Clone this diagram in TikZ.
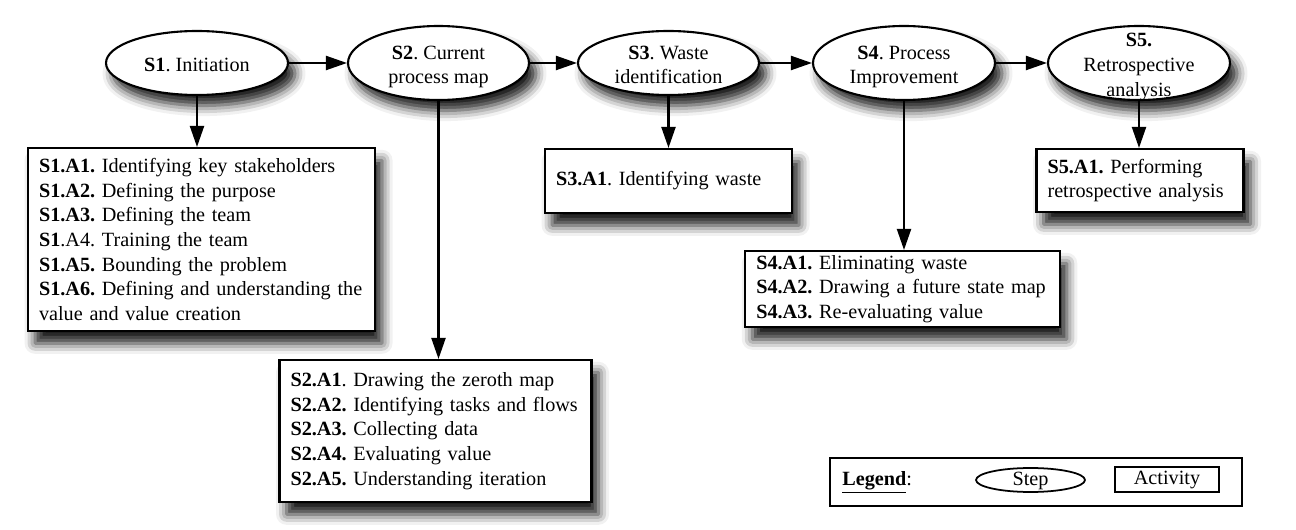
\documentclass[tikz,border=0pt]{standalone}
\usepackage{fontspec}
\setmainfont{Liberation Serif}
\usetikzlibrary{shapes.geometric, positioning, arrows.meta, shadows.blur}

\tikzset{
  stepnode/.style={ellipse, draw, line width=1.2pt, fill=white, inner sep=0pt,
    blur shadow={shadow xshift=4pt, shadow yshift=-6pt, shadow blur radius=6pt, shadow opacity=90}},
  activity/.style={rectangle, draw, line width=1.2pt, fill=white, align=left,
    inner xsep=0.22cm, inner ysep=0pt,
    blur shadow={shadow xshift=4pt, shadow yshift=-7pt, shadow blur radius=6pt, shadow opacity=90}},
  legendbox/.style={rectangle, draw, line width=1.2pt, inner sep=0pt}
}
\newcommand{\steplines}[1]{\smash{\raisebox{-5pt}{\begin{tabular}{@{}c@{}}#1\end{tabular}}}}

\begin{document}
\frenchspacing
\begin{tikzpicture}[x=0.02cm, y=-0.02cm, >={Triangle[length=12pt,width=8pt]}]
\fontsize{11.5}{14}\selectfont
\useasboundingbox (0,0) rectangle (1296,530);
        % Steps
        \node[stepnode, minimum width=3.64cm, minimum height=1.28cm] at (197, 63)   (s1) {\steplines{\textbf{S1}. Initiation}};
        \node[stepnode, minimum width=3.62cm, minimum height=1.48cm] at (438.5, 63) (s2) {\steplines{\textbf{S2}. Current\\process map}};
        \node[stepnode, minimum width=3.62cm, minimum height=1.28cm] at (668.5, 63) (s3) {\steplines{\textbf{S3}. Waste\\identification}};
        \node[stepnode, minimum width=3.64cm, minimum height=1.48cm] at (904, 63)   (s4) {\steplines{\textbf{S4}. Process\\Improvement}};
        \node[stepnode, minimum width=3.64cm, minimum height=1.48cm] at (1139, 63)  (s5) {\steplines{\textbf{S5.}\\Retrospective\\analysis}};
        % Activities
        \node[activity, text width=6.5cm, minimum height=3.66cm] at (201.5, 239.5) (a1) {%
          \textbf{S1.A1.} Identifying key stakeholders\\
          \textbf{S1.A2.} Defining the purpose\\
          \textbf{S1.A3.} Defining the team\\
          \textbf{S1}.A4. Training the team\\
          \textbf{S1.A5.} Bounding the problem\\
          \textbf{S1.A6.} Defining and understanding the\\
          value and value creation};
        \node[activity, text width=5.8cm, minimum height=2.84cm] at (435.5, 431) (a2) {%
          \textbf{S2.A1}. Drawing the zeroth map\\
          \textbf{S2.A2.} Identifying tasks and flows\\
          \textbf{S2.A3.} Collecting data\\
          \textbf{S2.A4.} Evaluating value\\
          \textbf{S2.A5.} Understanding iteration};
        \node[activity, text width=4.50cm, minimum height=1.28cm] at (668.5, 181) (a3) {%
          \textbf{S3.A1}. Identifying waste};
        \node[activity, text width=5.85cm, minimum height=1.52cm] at (902.5, 289) (a4) {%
          \textbf{S4.A1.} Eliminating waste\\
          \textbf{S4.A2.} Drawing a future state map\\
          \textbf{S4.A3.} Re-evaluating value};
        \node[activity, text width=3.7cm, minimum height=1.26cm] at (1140, 180.5) (a5) {%
          \textbf{S5.A1.} Performing\\
          retrospective analysis};
        % Legend
        \node[legendbox, minimum width=8.24cm, minimum height=0.96cm] at (1036, 482) (legend) {};
        \node[anchor=west, inner sep=0pt] at (842, 482) (legendtxt) {\underline{\textbf{Legend}}:};
        \node[ellipse, draw, line width=1pt, inner sep=0pt, text height=1.5ex, text depth=0.25ex,
              minimum width=2.18cm, minimum height=0.48cm] at (1030.5, 480) (legstep) {Step};
        \node[legendbox, line width=1pt, minimum width=2.08cm, minimum height=0.5cm] at (1167, 479.5) (legact) {Activity};
        % Connect the steps
        \draw[->, line width=1.2pt]
            (s1) edge (s2)
            (s2) edge (s3)
            (s3) edge (s4)
            (s4) edge (s5);
        % Steps to activities
        \draw[->, line width=1.2pt] (s1.south) -- (s1.south |- a1.north);
        \draw[->, line width=1.2pt] (s2.south) -- (s2.south |- a2.north);
        \draw[->, line width=1.2pt] (s3.south) -- (s3.south |- a3.north);
        \draw[->, line width=1.2pt] (s4.south) -- (s4.south |- a4.north);
        \draw[->, line width=1.2pt] (s5.south) -- (s5.south |- a5.north);
\end{tikzpicture}
\end{document}
